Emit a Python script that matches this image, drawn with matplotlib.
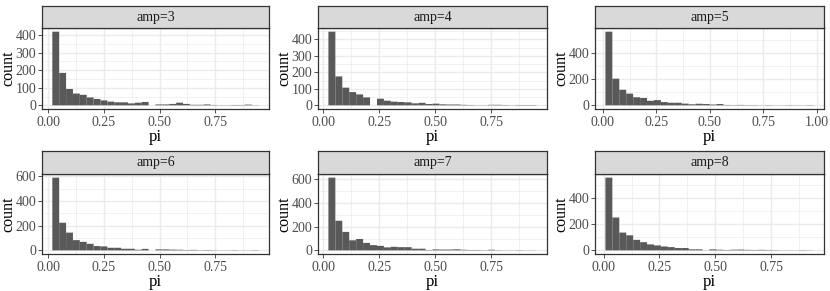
import matplotlib
matplotlib.use("Agg")
from matplotlib import pyplot as plt
import numpy as np

plt.rcParams["font.family"] = ["Liberation Serif", "DejaVu Serif"]

# panel labels
amps = [3, 4, 5, 6, 7, 8]

# data range of pi in each panel (30 bins each, like geom_histogram default)
pi_lo = [0.018, 0.022, 0.012, 0.018, 0.022, 0.008]
pi_hi = [0.945, 0.952, 0.984, 0.945, 0.952, 0.940]

# bin counts
counts_3 = [420, 185, 93, 67, 60, 45, 36, 28, 21, 17, 17, 11, 15, 19, 0,
            5, 5, 8, 15, 8, 3, 3, 5, 2, 1, 1, 2, 2, 4, 1]
counts_4 = [446, 175, 107, 80, 66, 48, 0, 40, 28, 22, 20, 18, 12, 15, 8,
            10, 6, 5, 5, 3, 2, 1, 1, 3, 3, 2, 1, 2, 2, 2]
counts_5 = [567, 205, 120, 90, 62, 57, 35, 40, 25, 20, 20, 13, 8, 12, 10,
            6, 10, 3, 2, 3, 2, 2, 1, 2, 1, 1, 2, 1, 1, 2]
counts_6 = [590, 224, 144, 83, 69, 53, 35, 32, 21, 21, 13, 13, 5, 12, 0,
            8, 8, 6, 5, 3, 4, 2, 3, 2, 1, 1, 2, 1, 1, 2]
counts_7 = [614, 250, 156, 85, 96, 63, 44, 38, 25, 30, 27, 27, 14, 14, 3,
            8, 7, 7, 9, 5, 3, 3, 2, 5, 2, 1, 1, 2, 1, 1]
counts_8 = [560, 253, 137, 116, 81, 63, 46, 38, 30, 25, 18, 18, 8, 8, 1,
            8, 5, 3, 5, 6, 4, 3, 4, 3, 2, 1, 1, 1, 2, 1]
all_counts = [counts_3, counts_4, counts_5, counts_6, counts_7, counts_8]

# y tick steps per panel
y_steps = [100, 100, 200, 200, 200, 200]

W, H = 830, 291
fig = plt.figure(figsize=(W / 100, H / 100), dpi=100)

# panel boxes in pixels: left, right, strip top, strip bottom, axes bottom
cols = [(42, 269), (318, 547), (595, 824)]
rows = [(6, 28, 109), (151, 174, 254)]

for i in range(6):
    r, c = divmod(i, 3)
    x0, x1 = cols[c]
    st, sb, ab = rows[r]
    pw, ph = x1 - x0, ab - sb

    ax = fig.add_axes([x0 / W, 1 - ab / H, pw / W, ph / H])
    sx = fig.add_axes([x0 / W, 1 - sb / H, pw / W, (sb - st) / H])

    counts = np.array(all_counts[i])
    edges = np.linspace(pi_lo[i], pi_hi[i], len(counts) + 1)

    ax.bar(edges[:-1], counts, width=np.diff(edges), align="edge",
           color="#595959", linewidth=0, zorder=3, snap=False)

    # ggplot-like 5% expansion
    span = pi_hi[i] - pi_lo[i]
    xlo, xhi = pi_lo[i] - 0.05 * span, pi_hi[i] + 0.05 * span
    ymax = counts.max()

    xt = np.arange(0, 1.01, 0.25)
    xt = xt[(xt >= xlo) & (xt <= xhi)]
    ax.set_xticks(xt)
    ax.set_xticklabels([f"{v:.2f}" for v in xt])
    yt = np.arange(0, ymax * 1.05, y_steps[i])
    ax.set_yticks(yt)
    ax.set_yticklabels([f"{int(v)}" for v in yt])
    ax.set_xticks(np.arange(-0.125, 1.2, 0.25), minor=True)
    ax.set_yticks(np.arange(y_steps[i] / 2, ymax * 1.05, y_steps[i]), minor=True)

    ax.set_xlim(xlo, xhi)
    ax.set_ylim(-0.05 * ymax, ymax * 1.05)

    ax.grid(True, which="major", color="#EBEBEB", linewidth=1.0, zorder=0)
    ax.grid(True, which="minor", color="#EBEBEB", linewidth=0.5, zorder=0)
    ax.set_axisbelow(True)
    ax.tick_params(which="major", length=2.75, width=0.6, color="#333333",
                   labelsize=10, labelcolor="#4D4D4D", pad=1.5)
    ax.tick_params(axis="x", which="major", pad=2.5)
    ax.tick_params(which="minor", length=0)
    for sp in ax.spines.values():
        sp.set_color("#333333")
        sp.set_linewidth(0.9)

    ax.set_xlabel("pi", fontsize=12)
    ax.set_ylabel("count", fontsize=11.5)
    ax.xaxis.set_label_coords(0.5, -20 / ph)
    ax.yaxis.set_label_coords(-26 / pw, 0.5)

    # strip
    sx.set_facecolor("#D9D9D9")
    sx.set_xticks([])
    sx.set_yticks([])
    for sp in sx.spines.values():
        sp.set_color("#333333")
        sp.set_linewidth(0.9)
    sx.text(0.5, 0.5, f"amp={amps[i]}", ha="center", va="center",
            fontsize=10, color="#1A1A1A", transform=sx.transAxes)

fig.savefig("out.png", dpi=100)
